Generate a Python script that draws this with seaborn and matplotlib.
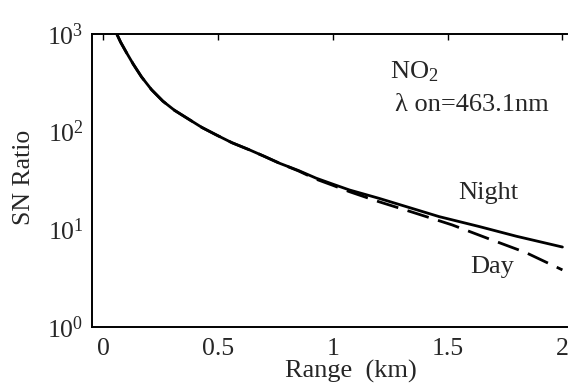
import matplotlib
matplotlib.use("Agg")
import matplotlib.pyplot as plt
import seaborn as sns
import pandas as pd
from matplotlib.ticker import LogLocator, FixedLocator, NullFormatter

# Data
night_range = [0.058, 0.075, 0.1, 0.13, 0.166, 0.21, 0.259, 0.31, 0.376, 0.43, 0.492, 0.56, 0.637,
               0.7, 0.767, 0.85, 0.927, 1.0, 1.072, 1.2, 1.33, 1.463, 1.637, 1.8, 2.0]
night_snr = [1000, 822, 646, 490, 363, 268, 205, 165, 132, 110, 92.5, 77, 65,
             56, 47.5, 40, 33.4, 29, 25.3, 20.8, 16.8, 13.5, 10.7, 8.5, 6.6]
day_range = [0.058, 0.075, 0.1, 0.13, 0.166, 0.21, 0.259, 0.31, 0.376, 0.43, 0.492, 0.56, 0.637,
             0.7, 0.767, 0.85, 0.927, 1.0, 1.072, 1.2, 1.346, 1.52, 1.68, 1.84, 2.0]
day_snr = [1000, 822, 646, 490, 363, 268, 205, 165, 132, 110, 92.5, 77, 65,
           56, 47.5, 39.6, 32.6, 28.2, 24.3, 19.2, 15.0, 11.1, 8.0, 5.8, 3.85]
x_ticks = [0, 0.5, 1, 1.5, 2]
x_ticklabels = ["0", "0.5", "1", "1.5", "2"]

sns.set_style("white")
plt.rcParams['font.family'] = ['Liberation Serif', 'DejaVu Serif']
plt.rcParams['mathtext.fontset'] = 'custom'
plt.rcParams['mathtext.rm'] = 'Liberation Serif'
plt.rcParams['mathtext.it'] = 'Liberation Serif:italic'

night = pd.DataFrame({"Range": night_range, "SNR": night_snr})
day = pd.DataFrame({"Range": day_range, "SNR": day_snr})

fig = plt.figure(figsize=(5.71, 3.89), dpi=100)
ax = fig.add_axes([0.161, 0.159, 0.832, 0.754])

sns.lineplot(data=night, x="Range", y="SNR", ax=ax, color="black", lw=2.0)
sns.lineplot(data=day, x="Range", y="SNR", ax=ax, color="black", lw=2.0)
ax.lines[-1].set_dashes((8, 3.5))

ax.set_yscale("log")
ax.set_xlim(-0.05, 2.02)
ax.set_ylim(1, 1000)

ax.xaxis.set_major_locator(FixedLocator(x_ticks))
ax.set_xticklabels(x_ticklabels)
ax.yaxis.set_major_locator(LogLocator(base=10, numticks=10))
ax.yaxis.set_minor_locator(LogLocator(base=10, subs=(2, 5), numticks=10))
ax.yaxis.set_minor_formatter(NullFormatter())

ax.tick_params(axis="both", which="major", direction="in", length=4, width=1,
               labelsize=18.5, top=True, right=False, color="black")
ax.tick_params(axis="y", which="minor", direction="in", length=2.5, width=0.8, right=False)
ax.tick_params(axis="x", pad=8)
ax.tick_params(axis="y", pad=6)

for side in ["left", "bottom", "top"]:
    ax.spines[side].set_visible(True)
    ax.spines[side].set_color("black")
    ax.spines[side].set_linewidth(1.4)
ax.spines["right"].set_visible(False)

ax.set_xlabel("Range  (km)", fontsize=19)
ax.xaxis.set_label_coords(0.545, -0.113)
ax.set_ylabel("SN Ratio", fontsize=18.5)
ax.yaxis.set_label_coords(-0.12, 0.51)

ax.text(0.627, 0.870, r"NO$\mathregular{_2}$", transform=ax.transAxes, fontsize=19, va="center")
ax.text(0.637, 0.758, "λ on=463.1nm", transform=ax.transAxes, fontsize=19, va="center")
ax.text(0.772, 0.457, "Night", transform=ax.transAxes, fontsize=19, va="center")
ax.text(0.797, 0.205, "Day", transform=ax.transAxes, fontsize=19, va="center")

fig.savefig("out.png", dpi=100)
